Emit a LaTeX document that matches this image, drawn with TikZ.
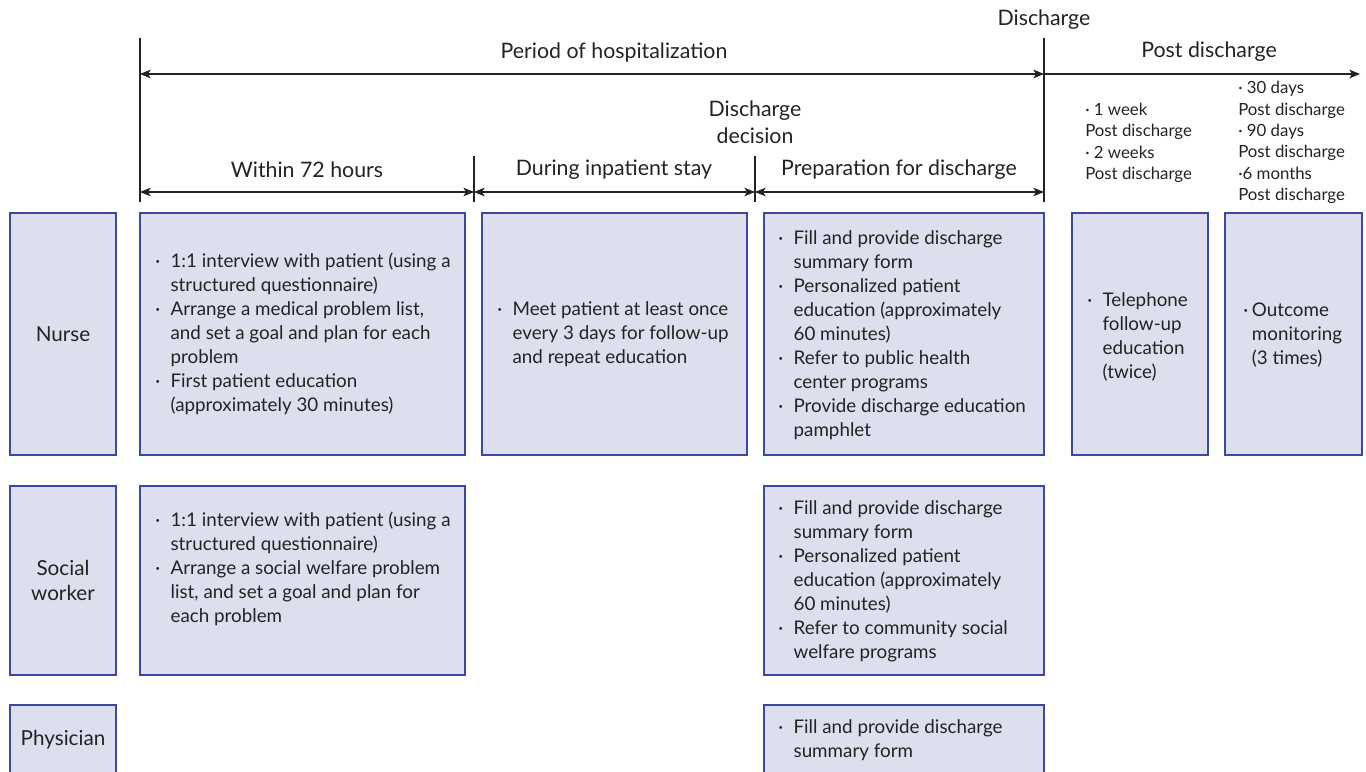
\documentclass[tikz,border=0pt]{standalone}
\usepackage{fontspec}
\setmainfont{Lato}
\usetikzlibrary{arrows.meta}

\definecolor{boxfill}{HTML}{DDDFEE}
\definecolor{boxline}{HTML}{3B47A0}
\definecolor{ink}{HTML}{232323}

% bullet cells with a fixed width, and the matching indent for wrapped lines
\newcommand\bl{\makebox[11.5pt][l]{·}}
\newcommand\ind{\hspace*{11.5pt}}
\newcommand\bls{\makebox[6.5pt][l]{·}}
\newcommand\inds{\hspace*{6.5pt}}

\begin{document}
\begin{tikzpicture}[x=0.75pt,y=-0.75pt,
  lane/.style={draw=boxline, fill=boxfill, line width=1.1pt, inner sep=0pt,
               text=ink, font=\fontsize{15.5}{18.8}\selectfont, align=center},
  body/.style={text=ink, font=\fontsize{14.1}{18}\selectfont, align=left,
               inner sep=0pt, anchor=west},
  title/.style={text=ink, font=\fontsize{16}{19.5}\selectfont, align=center, inner sep=0pt},
  small/.style={text=ink, font=\fontsize{12.6}{16}\selectfont, align=left,
                inner sep=0pt, anchor=west},
  tick/.style={draw=ink, line width=0.8pt},
  span/.style={draw=ink, line width=0.8pt,
               {Stealth[length=8pt,width=6.5pt,inset=2pt]}-{Stealth[length=8pt,width=6.5pt,inset=2pt]}},
  ray/.style={draw=ink, line width=0.8pt, -{Stealth[length=8pt,width=6.5pt,inset=2pt]}}
]
\path[use as bounding box] (0,0) rectangle (1366,771);
\clip (0,0) rectangle (1366,771);

% ---- timeline ----
\coordinate (t0top) at (140,38);
\coordinate (t0) at (140,74);
\coordinate (t0low) at (140,192);
\coordinate (t0bot) at (140,202);
\coordinate (dtop) at (1044,38);
\coordinate (d) at (1044,74);
\coordinate (dlow) at (1044,192);
\coordinate (dbot) at (1044,202);
\coordinate (tend) at (1360,74);
\coordinate (m1top) at (474,156);
\coordinate (m1) at (474,192);
\coordinate (m1bot) at (474,202);
\coordinate (m2top) at (755,156);
\coordinate (m2) at (755,192);
\coordinate (m2bot) at (755,202);

\path[tick] (t0top) -- (t0bot);
\path[tick] (dtop) -- (dbot);
\path[tick] (m1top) -- (m1bot);
\path[tick] (m2top) -- (m2bot);
\path[span] (t0) -- (d);
\path[ray] (d) -- (tend);
\path[span] (t0low) -- (m1);
\path[span] (m1) -- (m2);
\path[span] (m2) -- (dlow);

\node[title] (lblDis) at (1044,20) {Discharge};
\node[title] (lblHosp) at (614,52) {Period of hospitalization};
\node[title] (lblPost) at (1209,52) {Post discharge};
\node[title] (lblDec) at (755,122) {Discharge\\[1pt]decision};
\node[title] (lbl72) at (307,170) {Within 72 hours};
\node[title] (lblStay) at (614,170) {During inpatient stay};
\node[title] (lblPrep) at (899,170) {Preparation for discharge};

\node[small] (when1) at (1085,143) {· 1 week\\Post discharge\\· 2 weeks\\Post discharge};
\node[small] (when2) at (1238,142.5) {· 30 days\\Post discharge\\· 90 days\\Post discharge\\·6 months\\Post discharge};

% ---- nurse row ----
\node[lane, minimum width=79.5pt, minimum height=181.5pt] (nurse) at (63,334) {Nurse};
\node[lane, minimum width=243.75pt, minimum height=181.5pt] (nA) at (302.5,334) {};
\node[lane, minimum width=198.75pt, minimum height=181.5pt] (nB) at (614.5,334) {};
\node[lane, minimum width=210pt, minimum height=181.5pt] (nC) at (904,334) {};
\node[lane, minimum width=102pt, minimum height=181.5pt] (nD) at (1140,334) {};
\node[lane, minimum width=102.75pt, minimum height=181.5pt] (nE) at (1293.5,334) {};

\node[body] (nAt) at (155,334) {\bl 1:1 interview with patient (using a\\
\ind structured questionnaire)\\
\bl Arrange a medical problem list,\\
\ind and set a goal and plan for each\\
\ind problem\\
\bl First patient education\\
\ind (approximately 30 minutes)};
\node[body] (nBt) at (497,334) {\bl Meet patient at least once\\
\ind every 3 days for follow-up\\
\ind and repeat education};
\node[body] (nCt) at (778,335) {\bl Fill and provide discharge\\
\ind summary form\\
\bl Personalized patient\\
\ind education (approximately\\
\ind 60 minutes)\\
\bl Refer to public health\\
\ind center programs\\
\bl Provide discharge education\\
\ind pamphlet};
\node[body] (nDt) at (1087,337) {\bl Telephone\\
\ind follow-up\\
\ind education\\
\ind (twice)};
\node[body] (nEt) at (1243,335) {\bls Outcome\\
\inds monitoring\\
\inds (3 times)};

% ---- social worker row ----
\node[lane, minimum width=79.5pt, minimum height=141.75pt] (social) at (63,580.5) {Social\\worker};
\node[lane, minimum width=243.75pt, minimum height=141.75pt] (sA) at (302.5,580.5) {};
\node[lane, minimum width=210pt, minimum height=141.75pt] (sC) at (904,580.5) {};

\node[body] (sAt) at (155,569) {\bl 1:1 interview with patient (using a\\
\ind structured questionnaire)\\
\bl Arrange a social welfare problem\\
\ind list, and set a goal and plan for\\
\ind each problem};
\node[body] (sCt) at (778,581) {\bl Fill and provide discharge\\
\ind summary form\\
\bl Personalized patient\\
\ind education (approximately\\
\ind 60 minutes)\\
\bl Refer to community social\\
\ind welfare programs};

% ---- physician row ----
\node[lane, minimum width=79.5pt, minimum height=52.5pt] (phys) at (63,740) {Physician};
\node[lane, minimum width=210pt, minimum height=52.5pt] (pC) at (904,740) {};
\node[body] (pCt) at (778,740) {\bl Fill and provide discharge\\
\ind summary form};
\end{tikzpicture}
\end{document}
